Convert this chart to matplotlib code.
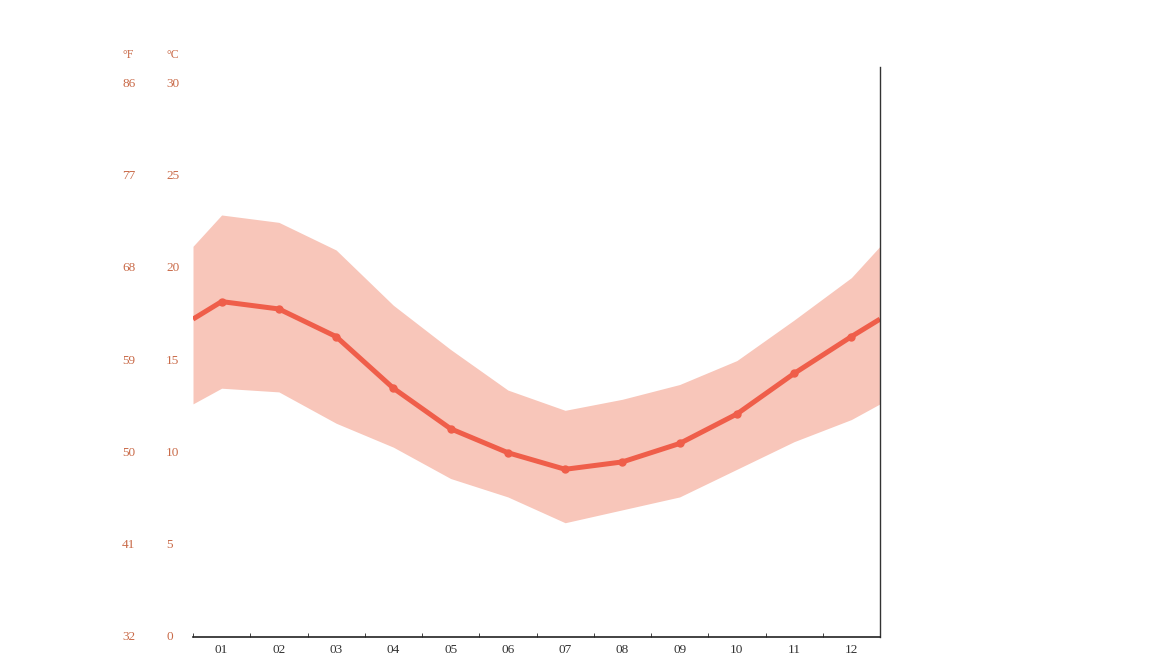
import matplotlib.pyplot as plt
import matplotlib.transforms as mtransforms
import numpy as np

# Datos (°C)
meses = ["01", "02", "03", "04", "05", "06", "07", "08", "09", "10", "11", "12"]
t_media = [18.2, 17.8, 16.3, 13.5, 11.3, 10.0, 9.1, 9.5, 10.5, 12.1, 14.3, 16.3]
t_max = [22.9, 22.5, 21.0, 18.0, 15.6, 13.4, 12.3, 12.9, 13.7, 15.0, 17.2, 19.5]
t_min = [13.5, 13.3, 11.6, 10.3, 8.6, 7.6, 6.2, 6.9, 7.6, 9.1, 10.6, 11.8]
celsius = [0, 5, 10, 15, 20, 25, 30]
fahrenheit = [32, 41, 50, 59, 68, 77, 86]

LINEA = "#ef5e4a"
BANDA = "#f8c6ba"
ETIQ = "#c96a48"


def main():
    plt.rcParams["font.family"] = ["Liberation Serif", "DejaVu Serif"]
    fig = plt.figure(figsize=(11.66, 6.58), dpi=100)
    ax = fig.add_axes([193 / 1166, 1 - 637 / 658, 687 / 1166, 570 / 658])

    x = np.arange(1, 13)
    # Extremos: la curva continua hasta el borde (media dic/ene)
    xe = np.concatenate([[0.5], x, [12.5]])

    def borde(v):
        m = (v[0] + v[-1]) / 2
        return np.concatenate([[m], v, [m]])

    ax.fill_between(xe, borde(t_min), borde(t_max), color=BANDA, lw=0, zorder=1)
    ax.plot(xe, borde(t_media), color=LINEA, lw=3.6, zorder=2,
            solid_capstyle="butt")
    ax.plot(x, t_media, "o", color=LINEA, ms=5, zorder=3)

    ax.set_xlim(0.5, 12.5)
    ax.set_ylim(0, 30.93)

    for s in ["left", "top"]:
        ax.spines[s].set_visible(False)
    ax.spines["bottom"].set_color("#222222")
    ax.spines["right"].set_color("#333333")
    ax.spines["bottom"].set_linewidth(1.2)
    ax.spines["right"].set_linewidth(1.0)

    ax.set_xticks(x, meses, fontsize=9.5, color="#333333")
    ax.tick_params(axis="x", which="major", length=0, pad=5)
    ax.set_xticks(np.arange(0.5, 12.5, 1.0), minor=True)
    ax.tick_params(axis="x", which="minor", length=3, direction="in",
                   color="#222222")
    ax.set_yticks([])

    # Etiquetas del eje Y (°F y °C)
    tr = mtransforms.blended_transform_factory(ax.transAxes, ax.transData)
    for c, f in zip(celsius, fahrenheit):
        ax.text(-0.039, c, str(c), transform=tr, ha="left", va="center",
                fontsize=9.5, color=ETIQ, clip_on=False)
        ax.text(-0.103, c, str(f), transform=tr, ha="left", va="center",
                fontsize=9.5, color=ETIQ, clip_on=False)
    ax.text(-0.039, 31.6, "°C", transform=tr, ha="left", va="center",
            fontsize=8.5, color=ETIQ, clip_on=False)
    ax.text(-0.103, 31.6, "°F", transform=tr, ha="left", va="center",
            fontsize=8.5, color=ETIQ, clip_on=False)

    fig.savefig("out.png", dpi=100)


if __name__ == '__main__':
    main()
